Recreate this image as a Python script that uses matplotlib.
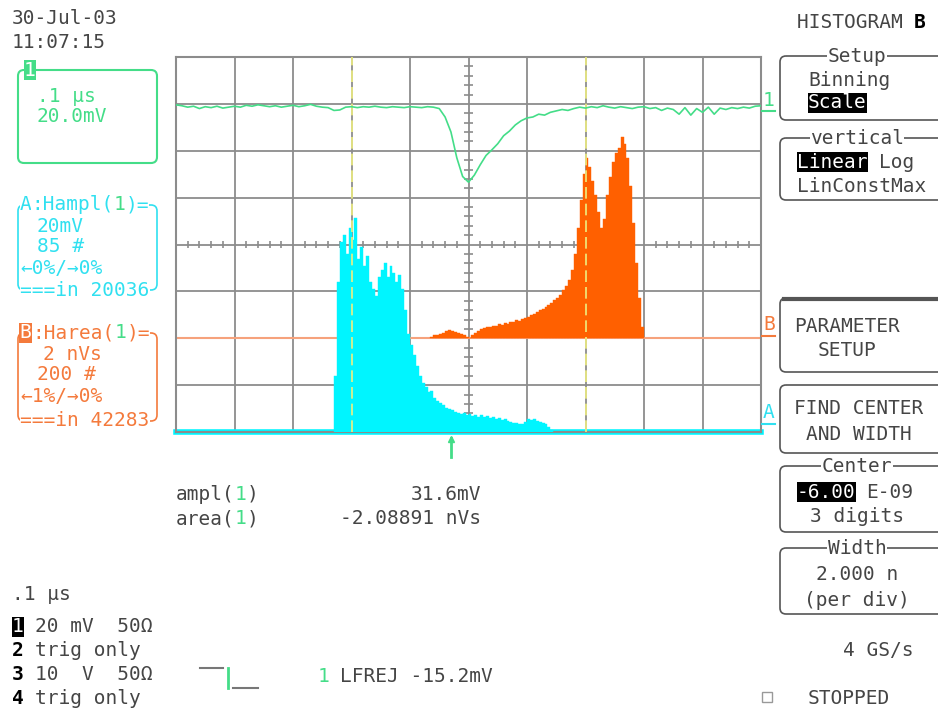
import numpy as np
import matplotlib
matplotlib.use("Agg")
import matplotlib.pyplot as plt
from matplotlib.patches import FancyBboxPatch, Rectangle

# ---- data (screen divisions: x 0..10, y 0..8) ----
trace_t0, trace_dt = 0.0, 0.1
trace_div = [6.98, 6.96, 6.93, 6.95, 6.90, 6.94, 6.92, 6.95, 6.91, 6.93,
             6.95, 6.93, 6.97, 6.95, 6.98, 6.96, 6.94, 6.96, 6.93, 6.95,
             6.97, 6.94, 6.96, 6.99, 6.95, 6.93, 6.92, 6.86, 6.87, 6.93,
             6.94, 6.92, 6.94, 6.93, 6.95, 6.93, 6.92, 6.94, 6.93, 6.92,
             6.94, 6.93, 6.92, 6.94, 6.93, 6.90, 6.72, 6.40, 5.85, 5.45,
             5.33, 5.48, 5.70, 5.90, 6.02, 6.15, 6.32, 6.42, 6.55, 6.64,
             6.70, 6.72, 6.78, 6.76, 6.82, 6.85, 6.88, 6.86, 6.90, 6.93,
             6.91, 6.94, 6.92, 6.96, 6.93, 6.91, 6.94, 6.92, 6.90, 6.93,
             6.94, 6.90, 6.92, 6.86, 6.91, 6.88, 6.78, 6.92, 6.76, 6.90,
             6.82, 6.93, 6.78, 6.91, 6.88, 6.92, 6.90, 6.93, 6.91, 6.95,
             6.96]

bin_w = 0.05
histA_start = 2.70
histA = [1.2, 3.2, 4.05, 4.2, 3.8, 4.35, 4.1, 4.56, 3.7, 3.95,
         3.55, 3.75, 3.2, 3.05, 2.9, 3.3, 3.45, 3.6, 3.3, 3.55,
         3.4, 3.2, 3.35, 3.05, 2.6, 2.1, 1.85, 1.65, 1.4, 1.2,
         1.05, 0.95, 0.85, 0.88, 0.72, 0.66, 0.62, 0.58, 0.52, 0.5,
         0.46, 0.42, 0.40, 0.38, 0.41, 0.36, 0.38, 0.35, 0.37, 0.33,
         0.36, 0.32, 0.34, 0.30, 0.31, 0.28, 0.30, 0.26, 0.27, 0.24,
         0.22, 0.20, 0.19, 0.17, 0.18, 0.22, 0.27, 0.25, 0.28, 0.24,
         0.22, 0.20, 0.17, 0.10, 0.04]
histA_base = 0.0

histB_start = 4.35
histB = [0.03, 0.06, 0.08, 0.10, 0.12, 0.15, 0.17, 0.16, 0.14, 0.11,
         0.09, 0.07, 0.02, 0.01, 0.06, 0.12, 0.15, 0.19, 0.21, 0.25,
         0.24, 0.27, 0.26, 0.30, 0.29, 0.33, 0.31, 0.35, 0.34, 0.38,
         0.37, 0.41, 0.44, 0.46, 0.49, 0.52, 0.55, 0.60, 0.63, 0.66,
         0.70, 0.75, 0.82, 0.86, 0.92, 1.02, 1.12, 1.25, 1.45, 1.80,
         2.35, 2.95, 3.50, 3.85, 3.65, 3.35, 3.05, 2.70, 2.35, 2.55,
         3.05, 3.45, 3.75, 3.95, 4.05, 4.30, 4.15, 3.85, 3.25, 2.45,
         1.60, 0.85, 0.25]
histB_base = 2.0

cursors = [3.0, 7.0]

GREEN = "#44dd88"
CYAN = "#00f5ff"
ORANGE = "#ff6000"
ORANGE_TXT = "#f47a3c"
CYAN_TXT = "#30e0f0"
GRAY = "#454545"
GRID = "#8c8c8c"
MONO = ["DejaVu Sans Mono", "DejaVu Sans"]
FS = 14
CW = FS * 0.602 * 100 / 72

fig = plt.figure(figsize=(9.38, 7.11), dpi=100)
W, H = 938, 711
ax = fig.add_axes([176 / W, 1 - 432 / H, 585 / W, 375 / H])
ax.set_xlim(0, 10)
ax.set_ylim(0, 8)
ax.set_xticks(range(11))
ax.set_yticks(range(9))
ax.tick_params(length=0, labelbottom=False, labelleft=False)
ax.grid(True, color=GRID, lw=1.3, zorder=0)
ax.set_axisbelow(True)
for s in ax.spines.values():
    s.set_color(GRID)
    s.set_linewidth(1.5)

# center cross ticks
minor = [v for v in np.arange(0.2, 10, 0.2) if abs(v - round(v)) > 1e-6]
ax.vlines(minor, 4 - 0.085, 4 + 0.085, color=GRID, lw=1.2, zorder=1)
minor_y = [v for v in np.arange(0.2, 8, 0.2) if abs(v - round(v)) > 1e-6]
ax.hlines(minor_y, 5 - 0.07, 5 + 0.07, color=GRID, lw=1.2, zorder=1)

# baselines
ax.axhline(histB_base, color="#f6a27c", lw=1.5, zorder=2)
ax.axhline(histA_base, color=CYAN, lw=4, zorder=2, clip_on=False)

xa = histA_start + bin_w * np.arange(len(histA))
ax.bar(xa, histA, width=bin_w, align="edge", bottom=histA_base,
       color=CYAN, edgecolor=CYAN, lw=0.3, zorder=3)
xb = histB_start + bin_w * np.arange(len(histB))
ax.bar(xb, histB, width=bin_w, align="edge", bottom=histB_base,
       color=ORANGE, edgecolor=ORANGE, lw=0.3, zorder=3)

for c in cursors:
    ax.axvline(c, color="#eeee80", lw=1.2, ls=(0, (7, 3)), zorder=4)

tx = trace_t0 + trace_dt * np.arange(len(trace_div))
ax.plot(tx, trace_div, color=GREEN, lw=1.2, zorder=5)

# ---- overlay for screen annotations (pixel coords) ----
ov = fig.add_axes([0, 0, 1, 1])
ov.set_xlim(0, W)
ov.set_ylim(H, 0)
ov.axis("off")


def put(x, y, s, color=GRAY, **kw):
    ov.text(x, y, s, color=color, fontsize=FS, family=MONO,
            va="center", ha="left", **kw)


def parts(x, y, items, **kw):
    for s, c in items:
        put(x, y, s, c, **kw)
        x += len(s) * CW


def inv(x, y, s, bg="black", fg="white"):
    put(x, y, s, fg, bbox=dict(facecolor=bg, edgecolor="none", pad=0.3))


def box(x0, y0, x1, y1, color="#555555", lw=1.2):
    ov.add_patch(FancyBboxPatch((x0, y0), x1 - x0, y1 - y0,
                                boxstyle="round,pad=0,rounding_size=6",
                                fc="none", ec=color, lw=lw))


def title(xc, y, s):
    ov.text(xc, y, s, color=GRAY, fontsize=FS, family=MONO, va="center",
            ha="center", bbox=dict(facecolor="white", edgecolor="none", pad=0.3))


def centred(xc, y, s):
    ov.text(xc, y, s, color=GRAY, fontsize=FS, family=MONO, va="center", ha="center")


WHITE_BG = dict(facecolor="white", edgecolor="none", pad=0.3)

# date/time
put(12, 19, "30-Jul-03")
put(12, 43, "11:07:15")

# channel 1 box
box(18, 70, 157, 163, GREEN, 1.5)
inv(24, 70, "1", bg=GREEN)
put(37, 96, ".1 μs", GREEN)
put(37, 117, "20.0mV", GREEN)

# histogram A box
box(18, 205, 157, 290, CYAN_TXT, 1.2)
parts(20, 205, [("A", CYAN_TXT), (":Hampl(", CYAN_TXT), ("1", GREEN), (")=", CYAN_TXT)],
      bbox=WHITE_BG)
put(37, 227, "20mV", CYAN_TXT)
put(37, 247, "85 #", CYAN_TXT)
put(20, 268, "←0%/→0%", CYAN_TXT)
put(20, 290, "===in 20036", CYAN_TXT, bbox=WHITE_BG)

# histogram B box
box(18, 333, 157, 421, ORANGE_TXT, 1.2)
inv(19.5, 333, "B", bg=ORANGE_TXT)
parts(21 + CW, 333, [(":Harea(", ORANGE_TXT), ("1", GREEN), (")=", ORANGE_TXT)],
      bbox=WHITE_BG)
put(43, 354, "2 nVs", ORANGE_TXT)
put(37, 375, "200 #", ORANGE_TXT)
put(20, 396, "←1%/→0%", ORANGE_TXT)
put(20, 421, "===in 42283", ORANGE_TXT, bbox=WHITE_BG)

# trace markers on the right edge
for yy, s, c in [(100, "1", GREEN), (325, "B", ORANGE_TXT), (413, "A", CYAN_TXT)]:
    put(763, yy, s, c)
    ov.plot([762, 775], [yy + 11, yy + 11], color=c, lw=1.5)

# trigger position marker
ov.plot([451, 451], [438, 457], color=GREEN, lw=2)
ov.plot([451], [439], marker="^", color=GREEN, ms=5)

# measurements
parts(176, 494, [("ampl(", GRAY), ("1", GREEN), (")", GRAY)])
parts(176, 519, [("area(", GRAY), ("1", GREEN), (")", GRAY)])
ov.text(481, 494, "31.6mV", color=GRAY, fontsize=FS, family=MONO, va="center", ha="right")
ov.text(481, 519, "-2.08891 nVs", color=GRAY, fontsize=FS, family=MONO, va="center", ha="right")

# bottom-left channel summary
put(12, 595, ".1 μs")
inv(12, 627, "1")
put(35, 627, "20 mV  50Ω")
put(12, 651, "2", "black", fontweight="bold")
put(35, 651, "trig only")
put(12, 674, "3", "black", fontweight="bold")
put(35, 674, "10  V  50Ω")
put(12, 698, "4", "black", fontweight="bold")
put(35, 698, "trig only")

# trigger symbol
ov.plot([200, 223], [668, 668], color="#777777", lw=1.5)
ov.plot([228, 228], [668, 688], color=GREEN, lw=2)
ov.plot([233, 258], [688, 688], color="#777777", lw=1.5)
put(318, 677, "1", GREEN)
put(340, 677, "LFREJ -15.2mV")

# right-hand menu
put(797, 22, "HISTOGRAM ")
put(797 + 10 * CW, 22, "B", "black", fontweight="bold")

box(780, 56, 960, 120)
title(857, 56, "Setup")
put(808, 80, "Binning")
inv(808, 103, "Scale")

box(780, 138, 960, 200)
title(857, 138, "vertical")
inv(797, 162, "Linear")
put(879, 162, "Log")
put(797, 187, "LinConstMax")

box(780, 298, 960, 372)
ov.plot([784, 938], [299, 299], color="#555555", lw=3)
centred(847, 326, "PARAMETER")
centred(847, 351, "SETUP")

box(780, 385, 960, 453)
centred(859, 409, "FIND CENTER")
centred(859, 434, "AND WIDTH")

box(780, 466, 960, 532)
title(857, 466, "Center")
inv(797, 492, "-6.00")
put(866, 492, "E-09")
centred(857, 516, "3 digits")

box(780, 548, 960, 614)
title(857, 548, "Width")
centred(857, 575, "2.000 n")
centred(857, 600, "(per div)")

put(843, 651, "4 GS/s")
ov.add_patch(Rectangle((762, 692), 10, 10, fc="none", ec="#999999", lw=1))
put(808, 699, "STOPPED")

fig.savefig("out.png", dpi=100)
